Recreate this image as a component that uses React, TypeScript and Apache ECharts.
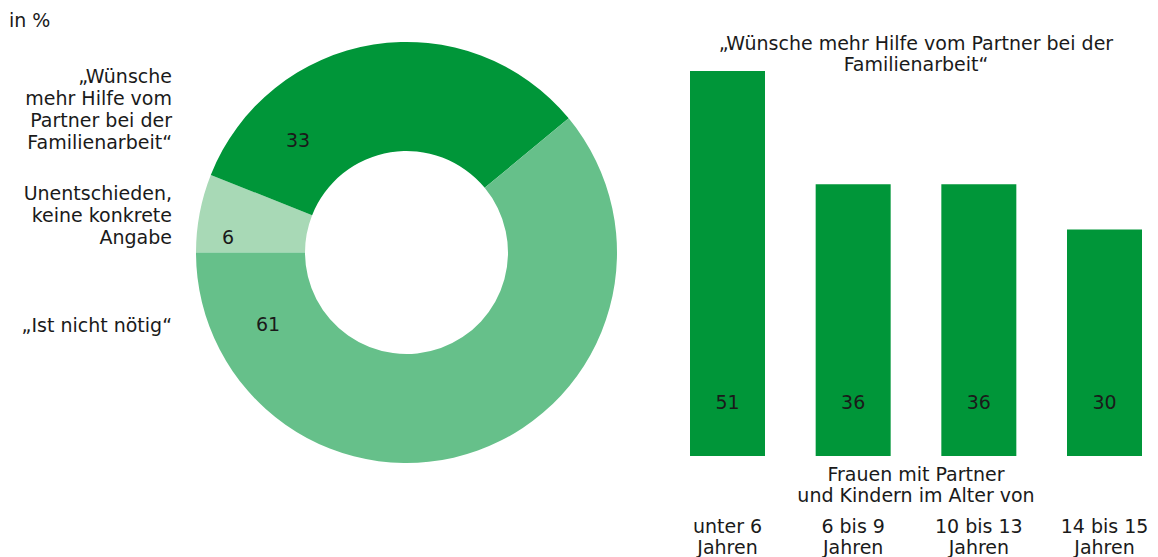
import React, { useEffect, useRef } from "react";
import * as echarts from "echarts";

const pieNames = ["Unentschieden, keine konkrete Angabe", "„Wünsche mehr Hilfe vom Partner bei der Familienarbeit“", "„Ist nicht nötig“"];
const pieValues = [6, 33, 61];
const pieColors = ["#a8d9b6", "#009639", "#66c08a"];
const pieLegendLines = [
  "Unentschieden,\nkeine konkrete\nAngabe",
  "„Wünsche\nmehr Hilfe vom\nPartner bei der\nFamilienarbeit“",
  "„Ist nicht nötig“",
];

const barCategories = ["unter 6\nJahren", "6 bis 9\nJahren", "10 bis 13\nJahren", "14 bis 15\nJahren"];
const barValues = [51, 36, 36, 30];
const barTitle = "„Wünsche mehr Hilfe vom Partner bei der\nFamilienarbeit“";
const barAxisName = "Frauen mit Partner\nund Kindern im Alter von";
const unitLabel = "in %";

const FONT = "DejaVu Sans";
const FS = 19;
const TXT = "#1a1a1a";

export default function App() {
  const ref = useRef<HTMLDivElement>(null);
  useEffect(() => {
    document.body.style.margin = "0";
    const chart = echarts.init(ref.current!, null, { renderer: "svg" });
    const textStyle = (extra: any) => ({
      fill: TXT,
      font: `${FS}px "${FONT}"`,
      lineHeight: 22,
      ...extra,
    });
    chart.setOption({
      animation: false,
      textStyle: { fontFamily: FONT },
      graphic: [
        { type: "text", left: 9, top: 9, z: 100, style: textStyle({ text: unitLabel }) },
        // left legend labels (right aligned at x=172)
        { type: "text", x: 172, y: 65, z: 100, style: textStyle({ text: pieLegendLines[1], align: "right", verticalAlign: "top" }) },
        { type: "text", x: 172, y: 182, z: 100, style: textStyle({ text: pieLegendLines[0], align: "right", verticalAlign: "top" }) },
        { type: "text", x: 172, y: 314, z: 100, style: textStyle({ text: pieLegendLines[2], align: "right", verticalAlign: "top" }) },
        // pie numbers
        { type: "text", x: 298, y: 129, z: 100, style: textStyle({ text: String(pieValues[1]), align: "center", verticalAlign: "top" }) },
        { type: "text", x: 228, y: 226, z: 100, style: textStyle({ text: String(pieValues[0]), align: "center", verticalAlign: "top" }) },
        { type: "text", x: 268, y: 313, z: 100, style: textStyle({ text: String(pieValues[2]), align: "center", verticalAlign: "top" }) },
        // bar title
        { type: "text", x: 916, y: 32, z: 100, style: textStyle({ text: barTitle, align: "center", verticalAlign: "top", lineHeight: 21 }) },
        // bar axis name
        { type: "text", x: 916, y: 463, z: 100, style: textStyle({ text: barAxisName, align: "center", verticalAlign: "top", lineHeight: 21 }) },
      ],
      grid: {
        left: 727.5,
        right: 1158 - 1104.5,
        top: 56,
        bottom: 557 - 456,
        outerBoundsMode: "none",
        containLabel: false,
      },
      xAxis: {
        type: "category",
        data: barCategories,
        boundaryGap: false,
        axisLine: { show: false },
        axisTick: { show: false },
        axisLabel: {
          margin: 59,
          color: TXT,
          fontFamily: FONT,
          fontSize: FS,
          lineHeight: 21,
          verticalAlign: "top",
          interval: 0,
        },
      },
      yAxis: {
        type: "value",
        min: 0,
        max: 53,
        show: false,
      },
      series: [
        {
          type: "pie",
          center: [406.5, 252.5],
          radius: [101.5, 210.5],
          startAngle: 180,
          clockwise: true,
          label: { show: false },
          labelLine: { show: false },
          emphasis: { disabled: true },
          data: pieValues.map((v, i) => ({ value: v, name: pieNames[i], itemStyle: { color: pieColors[i] } })),
        },
        {
          type: "bar",
          data: barValues,
          barWidth: 75,
          itemStyle: { color: "#009639" },
          emphasis: { disabled: true },
          label: {
            show: true,
            position: "insideBottom",
            distance: 45,
            color: TXT,
            fontFamily: FONT,
            fontSize: FS,
          },
        },
      ],
    });
    return () => chart.dispose();
  }, []);
  return <div ref={ref} style={{ width: 1158, height: 557 }} />;
}
